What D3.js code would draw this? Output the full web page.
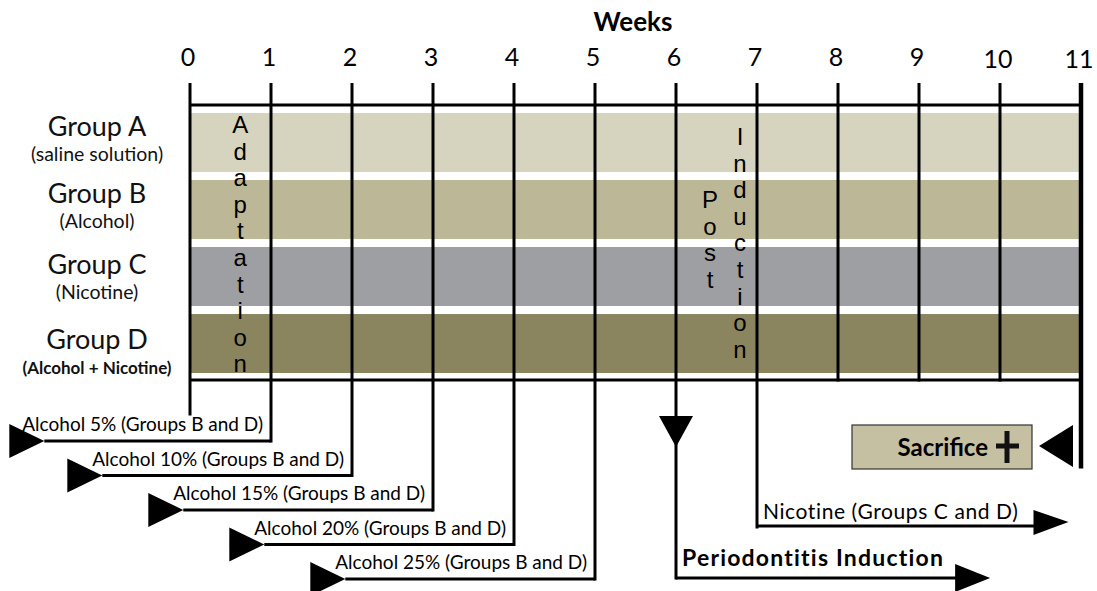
<!DOCTYPE html>
<html>
<head>
<meta charset="utf-8">
<script src="https://cdn.jsdelivr.net/npm/d3@7"></script>
<style>
  body { margin: 0; background: #fff; }
  svg { display: block; }
</style>
</head>
<body>
<div id="chart"></div>
<script>
// timeline data
const weeks = [0, 1, 2, 3, 4, 5, 6, 7, 8, 9, 10, 11];
const groups = ['Group A', 'Group B', 'Group C', 'Group D'];
const groupNotes = ['(saline solution)', '(Alcohol)', '(Nicotine)', '(Alcohol + Nicotine)'];
const groupColors = ['#d6d4bf', '#bcb897', '#9d9fa3', '#8a855f'];
const alcoholLabels = [
  'Alcohol 5% (Groups B and D)',
  'Alcohol 10% (Groups B and D)',
  'Alcohol 15% (Groups B and D)',
  'Alcohol 20% (Groups B and D)',
  'Alcohol 25% (Groups B and D)'
];
const alcoholWeeks = [1, 2, 3, 4, 5];
const inductionWeek = 6;
const nicotineWeek = 7;
const sacrificeWeek = 11;
const verticalWords = ['Adaptation', 'Post', 'Induction'];

const W = 1097, H = 591;
const labelFont = 'Lato, "Open Sans", sans-serif';
const letterFont = '"Liberation Sans", Arial, sans-serif';

const svg = d3.select('#chart').append('svg')
  .attr('width', W).attr('height', H);

const x = d3.scaleLinear().domain([0, 11]).range([190, 1081]);
const y = d3.scaleBand().domain(groups).range([113, 373]).paddingInner(0.12);
const yAlc = d3.scaleLinear().domain([0, alcoholWeeks.length - 1]).range([441, 579]);

const topY = 105, bottomY = 380, tickTop = 83;

// title + week labels
svg.append('text')
  .attr('x', 633).attr('y', 31)
  .attr('text-anchor', 'middle')
  .style('font', `bold 26px ${labelFont}`)
  .text('Weeks');

svg.append('g').selectAll('text').data(weeks).join('text')
  .attr('x', d => x(d) - 2).attr('y', d => d >= 10 ? 68 : 66)
  .attr('text-anchor', 'middle')
  .style('font', `25px ${labelFont}`)
  .text(d => d);

// group bands
svg.append('g').selectAll('rect').data(groups).join('rect')
  .attr('x', x(0)).attr('width', x(11) - x(0))
  .attr('y', d => y(d)).attr('height', y.bandwidth())
  .attr('fill', (d, i) => groupColors[i]);

const labelShift = [-6, -6, -3, 5];
const lab = svg.append('g').attr('text-anchor', 'middle').attr('fill', '#111');
lab.selectAll('.gname').data(groups).join('text')
  .attr('class', 'gname')
  .attr('x', 97).attr('y', (d, i) => y(d) + y.bandwidth() / 2 + labelShift[i])
  .style('font', `27px ${labelFont}`)
  .text(d => d);
lab.selectAll('.gnote').data(groupNotes).join('text')
  .attr('class', 'gnote')
  .attr('x', 97).attr('y', (d, i) => y(groups[i]) + y.bandwidth() / 2 + labelShift[i] + 25)
  .style('font', (d, i) => i === 3 ? `bold 17px ${labelFont}` : `19.5px ${labelFont}`)
  .text(d => d);

// vertical words
const wordPos = [
  { cx: x(0.62), top: 133 },
  { cx: x(6.42), top: 208 },
  { cx: x(6.79), top: 145 }
];
verticalWords.forEach((w, i) => {
  svg.append('g').selectAll('text').data(w.split('')).join('text')
    .attr('x', wordPos[i].cx)
    .attr('y', (c, j) => wordPos[i].top + j * 26.6)
    .attr('text-anchor', 'middle')
    .style('font', `24px ${letterFont}`)
    .text(c => c);
});

// horizontal borders
const lines = svg.append('g').attr('stroke', '#000').attr('fill', 'none');
lines.append('line').attr('x1', x(0)).attr('x2', x(11))
  .attr('y1', topY).attr('y2', topY).attr('stroke-width', 3);
lines.append('line').attr('x1', x(0)).attr('x2', x(11))
  .attr('y1', bottomY).attr('y2', bottomY).attr('stroke-width', 3);

// week lines, some run down into the arrows
function weekEnd(w) {
  const a = alcoholWeeks.indexOf(w);
  if (a >= 0) return yAlc(a);
  if (w === 0) return 414;
  if (w === inductionWeek) return 578;
  if (w === nicotineWeek) return 527;
  if (w === sacrificeWeek) return 467;
  return bottomY;
}
lines.selectAll('.wk').data(weeks).join('line')
  .attr('class', 'wk')
  .attr('x1', d => x(d)).attr('x2', d => x(d))
  .attr('y1', tickTop).attr('y2', d => weekEnd(d) + 1.5)
  .attr('stroke-width', d => d === sacrificeWeek ? 4.5 : 3);

const tri = (pts) => 'M' + pts.map(p => p.join(',')).join('L') + 'Z';

// alcohol steps
alcoholWeeks.forEach((w, i) => {
  const ly = yAlc(i);
  const t = svg.append('text')
    .attr('x', x(w) - 8).attr('y', ly - 10)
    .attr('text-anchor', 'end')
    .style('font', `19px ${labelFont}`)
    .text(alcoholLabels[i]);
  const bb = t.node().getBBox();
  const tip = bb.x + (i === 0 ? 22 : 10);
  lines.append('line').attr('x1', tip).attr('x2', x(w))
    .attr('y1', ly).attr('y2', ly).attr('stroke-width', 3);
  svg.append('path')
    .attr('d', tri([[tip, ly], [tip - 35, ly - 17], [tip - 35, ly + 17]]))
    .attr('fill', '#000');
});

// periodontitis induction
const ix = x(inductionWeek), iy = 578;
svg.append('path')
  .attr('d', tri([[ix - 17, 416], [ix + 17, 416], [ix, 447]]))
  .attr('fill', '#000');
const pt = svg.append('text')
  .attr('x', ix + 6).attr('y', iy - 12)
  .style('font', `bold 23px ${labelFont}`)
  .style('letter-spacing', '1.2px')
  .text('Periodontitis Induction');
const pEnd = pt.node().getBBox();
const pTip = pEnd.x + pEnd.width + 46;
lines.append('line').attr('x1', ix).attr('x2', pTip - 30)
  .attr('y1', iy).attr('y2', iy).attr('stroke-width', 3);
svg.append('path')
  .attr('d', tri([[pTip, iy], [pTip - 35, iy - 14], [pTip - 35, iy + 14]]))
  .attr('fill', '#000');

// nicotine
const nx = x(nicotineWeek), ny = 526;
const nt = svg.append('text')
  .attr('x', nx + 6).attr('y', ny - 7)
  .style('font', `21px ${labelFont}`)
  .style('letter-spacing', '0.6px')
  .text('Nicotine (Groups C and D)');
const nEnd = nt.node().getBBox();
const nTip = nEnd.x + nEnd.width + 50;
lines.append('line').attr('x1', nx).attr('x2', nTip - 30)
  .attr('y1', ny).attr('y2', ny).attr('stroke-width', 3);
svg.append('path')
  .attr('d', tri([[nTip, ny - 4], [nTip - 35, ny - 16], [nTip - 35, ny + 9]]))
  .attr('fill', '#000');

// sacrifice
const sx = x(sacrificeWeek);
svg.append('rect')
  .attr('x', sx - 229).attr('y', 425).attr('width', 180).attr('height', 44)
  .attr('fill', '#c4c0a1').attr('stroke', '#333').attr('stroke-width', 1.2);
svg.append('text')
  .attr('x', sx - 93).attr('y', 456)
  .attr('text-anchor', 'end')
  .style('font', `bold 24px ${labelFont}`)
  .text('Sacrifice');
svg.append('path')
  .attr('d', `M${sx - 74},431V463M${sx - 85},446H${sx - 62}`)
  .attr('stroke', '#111').attr('stroke-width', 5).attr('fill', 'none');
svg.append('path')
  .attr('d', tri([[sx - 42, 446], [sx - 8, 425], [sx - 8, 467]]))
  .attr('fill', '#000');
</script>
</body>
</html>
